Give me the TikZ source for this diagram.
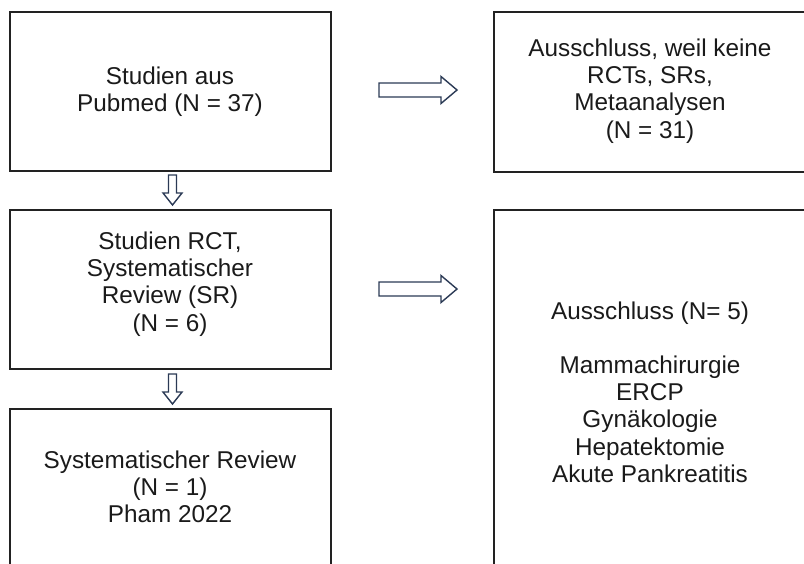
\documentclass[tikz,border=0pt]{standalone}
\usepackage{fontspec}
\setmainfont{Liberation Sans}
\definecolor{boxline}{HTML}{222222}
\definecolor{arrowline}{HTML}{2B3A55}
\definecolor{txt}{HTML}{1A1A1A}
\begin{document}
\begin{tikzpicture}[x=1pt,y=-1pt,
  frame/.style={draw=boxline,line width=2pt},
  label/.style={align=center,text=txt,inner sep=0pt,
    font=\fontsize{24.3}{27.2}\selectfont},
  blockarrow/.style={draw=arrowline,fill=white,line width=1.4pt,line join=miter},
  % right-pointing block arrow, origin at the tail centre
  hblock/.pic={\draw[blockarrow] (0,-7) -- (62,-7) -- (62,-13.5) -- (78,0)
      -- (62,13.5) -- (62,7) -- (0,7) -- cycle;},
  % downward block arrow, origin at the tail centre
  vblock/.pic={\draw[blockarrow] (-4,0) -- (-4,18) -- (-9.5,18) -- (0,30)
      -- (9.5,18) -- (4,18) -- (4,0) -- cycle;}]
\useasboundingbox (0,0) rectangle (804,563);
\clip (0,0) rectangle (804,563);
% boxes
\draw[frame] (10,12) rectangle (331,171);
\draw[frame] (494,12) rectangle (808,172);
\draw[frame] (10,210) rectangle (331,369);
\draw[frame] (494,210) rectangle (808,575);
\draw[frame] (10,409) rectangle (331,575);
% texts
\node[label] (pubmed) at (170,92) {Studien aus\\Pubmed (N = 37)};
\node[label] (excl1) at (650,91) {Ausschluss, weil keine\\RCTs, SRs,\\Metaanalysen\\(N = 31)};
\node[label] (rct) at (170,284) {Studien RCT,\\Systematischer\\Review (SR)\\(N = 6)};
\node[label] (excl2) at (650,392) {Ausschluss (N= 5)\\[27.2pt]Mammachirurgie\\ERCP\\Gyn\"akologie\\Hepatektomie\\Akute Pankreatitis};
\node[label] (sr) at (170,487) {Systematischer Review\\(N = 1)\\Pham 2022};
% block arrows
\pic at (379,90) {hblock};
\pic at (379,289) {hblock};
\pic at (172.5,175) {vblock};
\pic at (172.5,374) {vblock};
\end{tikzpicture}
\end{document}
